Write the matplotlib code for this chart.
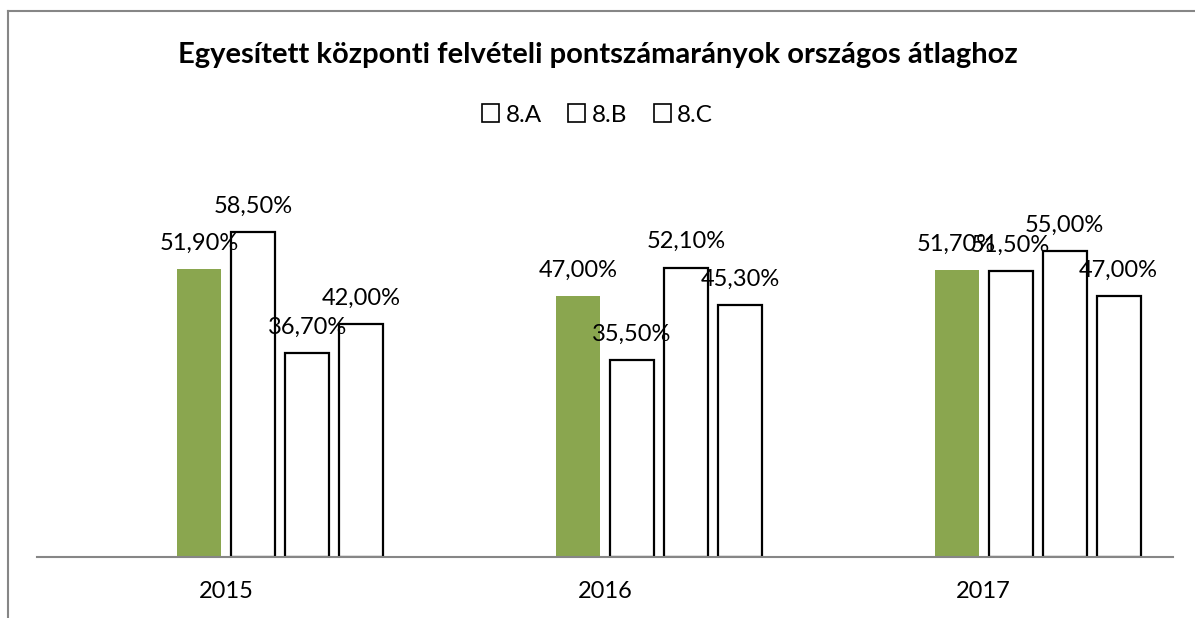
import matplotlib.pyplot as plt
from matplotlib.patches import Patch
from matplotlib.lines import Line2D
import numpy as np

years = ["2015", "2016", "2017"]
atlag = [51.9, 47.0, 51.7]
osztaly_a = [58.5, 35.5, 51.5]
osztaly_b = [36.7, 52.1, 55.0]
osztaly_c = [42.0, 45.3, 47.0]
series_names = ["8.A", "8.B", "8.C"]

plt.rcParams['font.family'] = ['Lato', 'DejaVu Sans']

fig = plt.figure(figsize=(11.95, 6.18), dpi=100)
ax = fig.add_axes([37 / 1195, 1 - 557 / 618, (1173 - 37) / 1195, (557 - 150) / 618])

x = np.arange(len(years))
slot = 54 / 378.67
width = 44 / 378.67
green = "#8AA64F"

all_series = [atlag, osztaly_a, osztaly_b, osztaly_c]
for k, vals in enumerate(all_series):
    pos = x + (k - 0.5) * slot
    if k == 0:
        bars = ax.bar(pos, vals, width, color=green, edgecolor="none")
    else:
        bars = ax.bar(pos, vals, width, color="white", edgecolor="black", linewidth=1.6)
    for b, v in zip(bars, vals):
        ax.annotate(f"{v:.2f}%".replace(".", ","), (b.get_x() + b.get_width() / 2, v),
                    xytext=(0, 11), textcoords="offset points", ha="center", va="bottom",
                    fontsize=17)

ax.set_xlim(-0.5, 2.5)
ax.set_ylim(0, (557 - 150) / 5.556)
ax.set_xticks(x)
ax.set_xticklabels(years, fontsize=17)
ax.tick_params(axis="x", length=0, pad=17)
ax.set_yticks([])
for s in ["top", "right", "left"]:
    ax.spines[s].set_visible(False)
ax.spines["bottom"].set_color("#868686")
ax.spines["bottom"].set_linewidth(1.5)

fig.text(0.5, 1 - 55 / 618, "Egyesített központi felvételi pontszámarányok országos átlaghoz",
         ha="center", va="center", fontsize=21, fontweight="bold")

handles = [Patch(facecolor="white", edgecolor="black", linewidth=1.2) for _ in series_names]
fig.legend(handles, series_names, loc="center", bbox_to_anchor=(0.5, 1 - 115 / 618), ncol=3,
           frameon=False, fontsize=17.5, handlelength=0.7, handleheight=0.7,
           handletextpad=0.25, columnspacing=1.1)

# chart frame
fig.add_artist(Line2D([8 / 1195, 8 / 1195], [0, 1 - 11 / 618], color="#868686", lw=1.5))
fig.add_artist(Line2D([8 / 1195, 1], [1 - 11 / 618, 1 - 11 / 618], color="#868686", lw=1.5))

fig.savefig("out.png", dpi=100)
